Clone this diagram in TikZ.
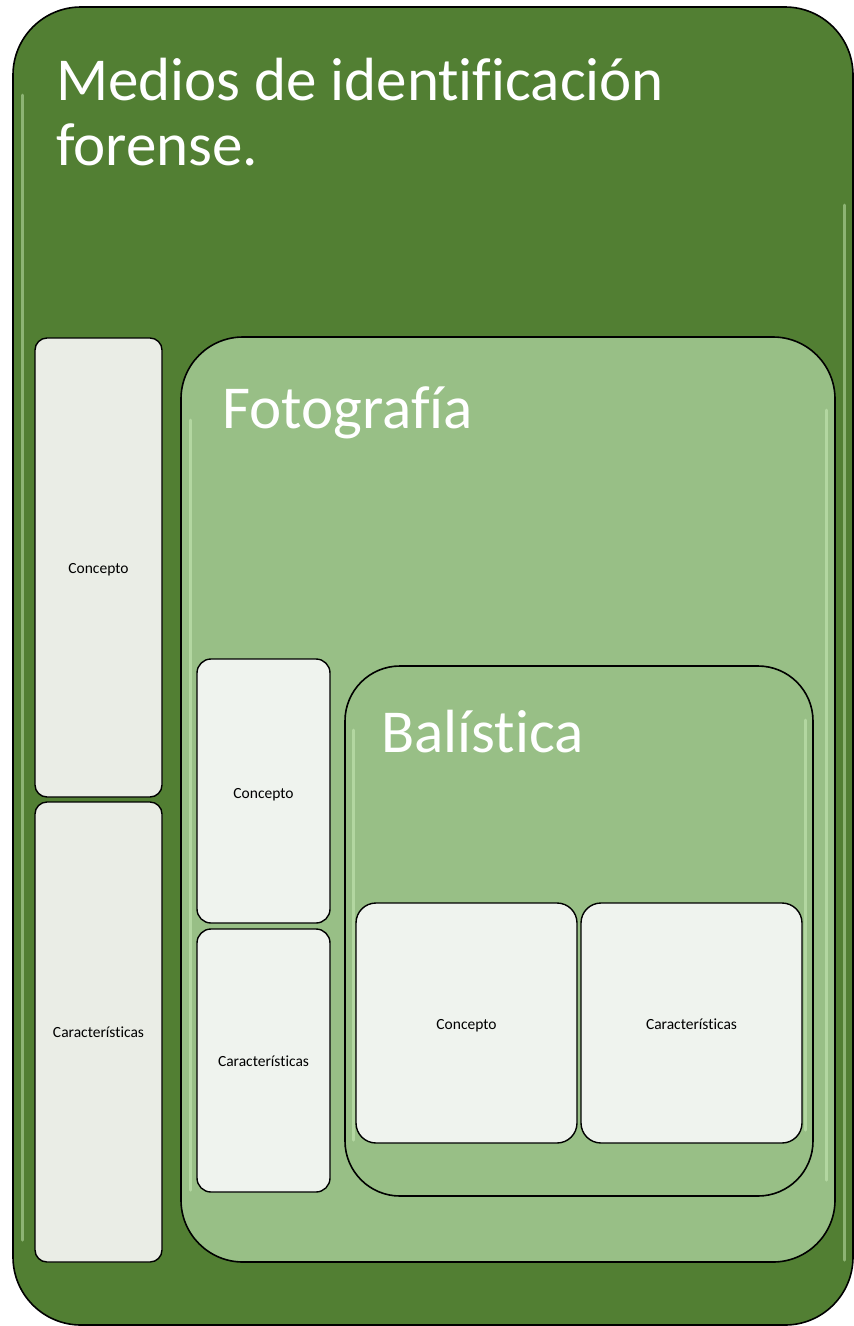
\documentclass[tikz,border=0pt]{standalone}
\usepackage{fontspec}
\setmainfont{Carlito}[Ligatures={NoCommon}]
\definecolor{darkgreen}{HTML}{527F33}
\definecolor{midgreen}{HTML}{98BF86}
\definecolor{boxgrey}{HTML}{EAEDE6}
\definecolor{boxlight}{HTML}{EFF3EE}
\definecolor{glint}{HTML}{D6F5C4}
\tikzset{
  bigbox/.style={draw=black, line width=1.6pt},
  smallbox/.style={draw=black, line width=1.4pt},
  title/.style={text=white, font=\fontsize{61}{66}\selectfont, anchor=base west, inner sep=0pt},
  label/.style={text=black, font=\fontsize{15.5}{18}\selectfont, inner sep=0pt, anchor=base},
  gloss/.style={glint, line width=3pt, opacity=0.45, line cap=round},
}
\begin{document}
\begin{tikzpicture}[x=1pt, y=-1pt]
\useasboundingbox (0,0) rectangle (854,1326);
% outer box
\draw[bigbox, fill=darkgreen, rounded corners=68pt] (13,7) rectangle (853,1325);
\draw[gloss] (22,95) -- (22,1240);
\draw[gloss] (844,205) -- (844,1260);
\node[title] (t1) at (56,100) {Medios de identificación};
\node[title] (t2) at (56,165) {forense.};
% left column
\draw[smallbox, fill=boxgrey, rounded corners=12pt] (35,338) rectangle (162,797);
\node[label] (c1) at (98.5,573) {Concepto};
\draw[smallbox, fill=boxgrey, rounded corners=12pt] (35,802) rectangle (162,1262);
\node[label] (k1) at (98.5,1037) {Características};
% Fotografia
\draw[bigbox, fill=midgreen, rounded corners=62pt] (181,337) rectangle (835,1262);
\draw[gloss] (190,420) -- (190,1190);
\draw[gloss] (826,410) -- (826,1180);
\node[title] (t3) at (222,428) {Fotografía};
\draw[smallbox, fill=boxlight, rounded corners=14pt] (197,659) rectangle (330,923);
\node[label] (c2) at (263.5,798) {Concepto};
\draw[smallbox, fill=boxlight, rounded corners=14pt] (197,929) rectangle (330,1192);
\node[label] (k2) at (263.5,1066) {Características};
% Balistica
\draw[bigbox, fill=midgreen, rounded corners=55pt] (345,666) rectangle (813,1196);
\draw[gloss] (353,730) -- (353,1140);
\draw[gloss] (805,720) -- (805,1130);
\node[title] (t4) at (381,752) {Balística};
\draw[smallbox, fill=boxlight, rounded corners=20pt] (356,903) rectangle (577,1143);
\node[label] (c3) at (466.5,1029) {Concepto};
\draw[smallbox, fill=boxlight, rounded corners=20pt] (581,903) rectangle (802,1143);
\node[label] (k3) at (691.5,1029) {Características};
\end{tikzpicture}
\end{document}
